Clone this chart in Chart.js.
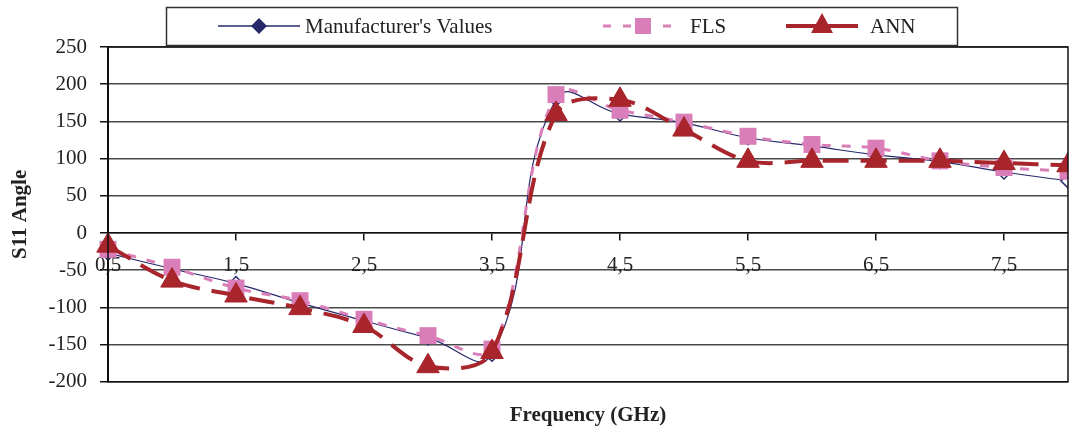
<!DOCTYPE html>
<html>
<head>
<meta charset="utf-8">
<script src="https://cdn.jsdelivr.net/npm/chart.js@4/dist/chart.umd.min.js"></script>
<style>
  html, body { margin: 0; padding: 0; background: #fff; }
  #wrap { width: 1069px; height: 432px; }
</style>
</head>
<body>
<div id="wrap"><canvas id="chart" width="1069" height="432"></canvas></div>
<script>
// S11 angle vs frequency
const freqs = [0.5, 1, 1.5, 2, 2.5, 3, 3.5, 4, 4.5, 5, 5.5, 6, 6.5, 7, 7.5, 8];
const manufacturer = [-27, -48, -68, -94, -118, -141, -163, 180, 160, 148, 128, 117, 105, 96, 82, 70];
const fls = [-22, -46, -74, -91, -116, -138, -156, 186, 165, 149, 130, 119, 114, 97, 88, 83];
const ann = [-17, -64, -84, -101, -125, -179, -160, 160, 179, 139, 97, 97, 97, 97, 94, 91];
const xTicks = [0.5, 1.5, 2.5, 3.5, 4.5, 5.5, 6.5, 7.5];

const NAVY = '#262a6b';
const PINK = '#d97eb8';
const RED = '#a7252b';
const FONT = 'Liberation Serif, Times New Roman, serif';
const FS = 21;

const pts = vals => freqs.map((f, i) => ({ x: f, y: vals[i] }));
const noSidePad = s => { s.paddingLeft = 0; s.paddingRight = 0; };

// legend + plot frame, drawn by hand to match the boxed legend
const frameAndLegend = {
    id: 'frameAndLegend',
    afterDraw(chart) {
        const ctx = chart.ctx;
        const a = chart.chartArea;
        ctx.save();
        ctx.strokeStyle = '#111';
        ctx.lineWidth = 1.5;
        ctx.strokeRect(a.left, a.top, a.right - a.left, a.bottom - a.top);

        // legend box
        ctx.strokeStyle = '#333';
        ctx.lineWidth = 1.5;
        ctx.strokeRect(166.5, 7.5, 791, 38);
        const cy = 26;
        ctx.font = FS + 'px ' + FONT;
        ctx.fillStyle = '#222';
        ctx.textBaseline = 'middle';

        // Manufacturer's Values
        ctx.strokeStyle = NAVY; ctx.lineWidth = 1.5;
        ctx.beginPath(); ctx.moveTo(218, cy); ctx.lineTo(300, cy); ctx.stroke();
        ctx.fillStyle = NAVY;
        ctx.beginPath();
        ctx.moveTo(259, cy - 8); ctx.lineTo(267, cy); ctx.lineTo(259, cy + 8); ctx.lineTo(251, cy);
        ctx.closePath(); ctx.fill();
        ctx.fillStyle = '#222';
        ctx.fillText("Manufacturer's Values", 305, cy + 1);

        // FLS
        ctx.strokeStyle = PINK; ctx.lineWidth = 3;
        ctx.setLineDash([8, 12]);
        ctx.beginPath(); ctx.moveTo(603, cy); ctx.lineTo(683, cy); ctx.stroke();
        ctx.setLineDash([]);
        ctx.fillStyle = PINK;
        ctx.fillRect(635, cy - 8, 16, 16);
        ctx.fillStyle = '#222';
        ctx.fillText('FLS', 690, cy + 1);

        // ANN
        ctx.strokeStyle = RED; ctx.lineWidth = 4;
        ctx.beginPath(); ctx.moveTo(786, cy); ctx.lineTo(858, cy); ctx.stroke();
        ctx.fillStyle = RED;
        ctx.beginPath();
        ctx.moveTo(822, cy - 13); ctx.lineTo(833, cy + 7); ctx.lineTo(811, cy + 7);
        ctx.closePath(); ctx.fill();
        ctx.fillStyle = '#222';
        ctx.fillText('ANN', 870, cy + 1);
        ctx.restore();
    }
};

const clipRight = { left: false, top: false, right: 0, bottom: false };

new Chart(document.getElementById('chart'), {
    type: 'line',
    data: {
        datasets: [
            {
                label: "Manufacturer's Values", data: pts(manufacturer), order: 2,
                borderColor: NAVY, borderWidth: 1.2, tension: 0.45,
                pointStyle: 'rectRot', pointRadius: 7, pointBackgroundColor: '#fff',
                pointBorderColor: NAVY, pointBorderWidth: 1.5, clip: clipRight
            },
            {
                label: 'FLS', data: pts(fls), order: 1,
                borderColor: PINK, borderWidth: 3, borderDash: [9, 11], tension: 0.35,
                pointStyle: 'rect', pointRadius: 12, pointBackgroundColor: PINK,
                pointBorderWidth: 0, clip: clipRight
            },
            {
                label: 'ANN', data: pts(ann), order: 0,
                borderColor: RED, borderWidth: 4, borderDash: [26, 12], tension: 0.35,
                pointStyle: 'triangle', pointRadius: 13, pointBackgroundColor: RED,
                pointBorderColor: RED, pointBorderWidth: 1, clip: clipRight
            }
        ]
    },
    options: {
        responsive: false,
        animation: false,
        devicePixelRatio: 1,
        layout: { autoPadding: false, padding: { top: 47, right: 1, bottom: 0, left: 0 } },
        plugins: { legend: { display: false }, tooltip: { enabled: false } },
        scales: {
            x: {
                type: 'linear', min: 0.5, max: 8,
                position: { y: 0 },
                afterBuildTicks: s => { s.ticks = xTicks.map(v => ({ value: v })); },
                afterFit: noSidePad,
                ticks: {
                    autoSkip: false, maxRotation: 0, padding: 13,
                    color: '#222', font: { family: FONT, size: FS },
                    callback: v => String(v).replace('.', ',')
                },
                grid: { drawOnChartArea: false, drawTicks: true, tickLength: 7, color: '#111', lineWidth: 1.5 },
                border: { display: true, color: '#111', width: 1.5 }
            },
            xTitle: {
                type: 'linear', axis: 'x', min: 0.5, max: 8, position: 'bottom',
                afterFit: noSidePad,
                ticks: { display: false },
                grid: { display: false, drawTicks: false },
                border: { display: false },
                title: {
                    display: true, text: 'Frequency (GHz)', color: '#222',
                    font: { family: FONT, size: FS, weight: 'bold' },
                    padding: { top: 21, bottom: 4 }
                }
            },
            y: {
                min: -200, max: 250,
                afterFit: s => { s.width = 108; },
                ticks: { stepSize: 50, padding: 13, color: '#222', font: { family: FONT, size: FS } },
                grid: { color: '#4a4a4a', lineWidth: 1.5, tickLength: 8, tickColor: '#111' },
                border: { display: true, color: '#111', width: 2 },
                title: {
                    display: true, text: 'S11 Angle', color: '#222',
                    font: { family: FONT, size: FS, weight: 'bold' },
                    padding: { top: 8, bottom: 0 }
                }
            }
        }
    },
    plugins: [frameAndLegend]
});
</script>
</body>
</html>
